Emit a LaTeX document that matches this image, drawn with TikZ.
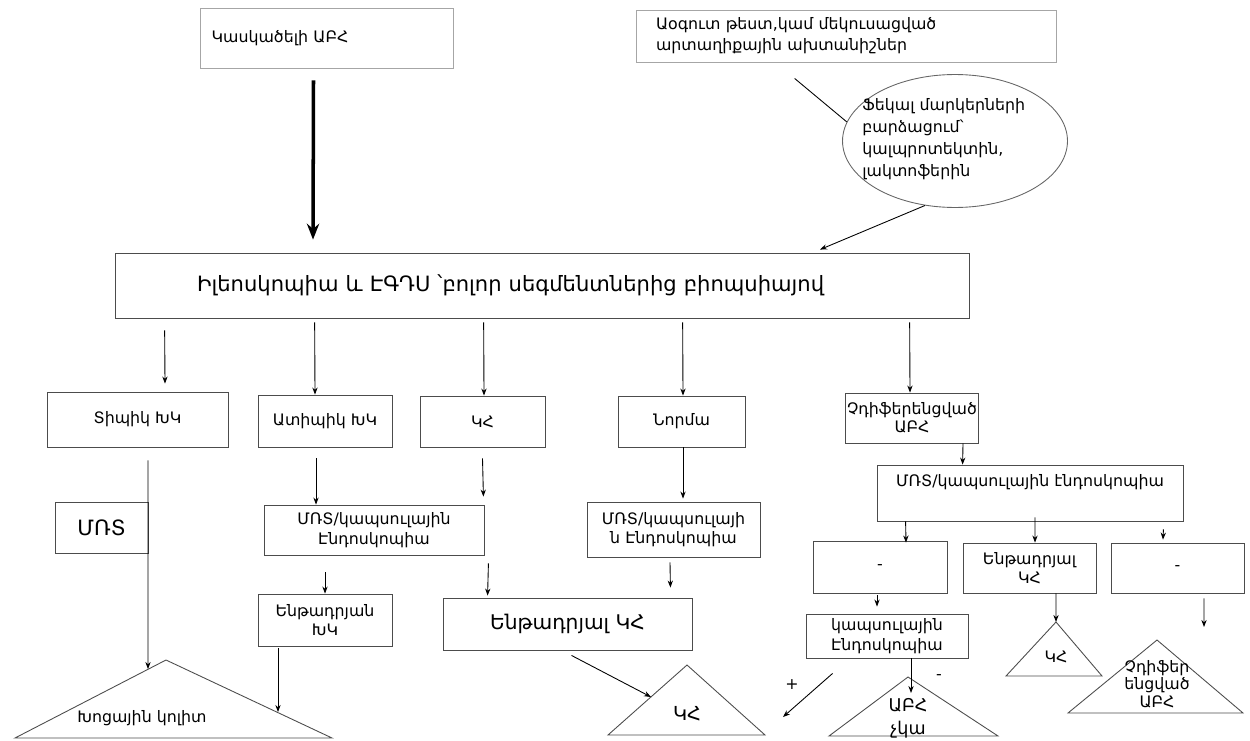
\documentclass[tikz,border=0pt]{standalone}
\usepackage{fontspec}
\setmainfont{DejaVu Sans}
\usetikzlibrary{arrows.meta,calc,shapes.geometric}

\begin{document}
\begin{tikzpicture}[x=0.02cm,y=-0.02cm,
  box/.style={draw=black!70,line width=0.5pt,rectangle,inner sep=1pt,font=\fontsize{9}{11}\selectfont,align=center},
  topbox/.style={box,draw=black!35,align=left},
  arr/.style={-{Stealth[length=4pt,width=3pt]},line width=0.5pt},
  tri/.style={draw=black!70,line width=0.5pt},
  lbl/.style={inner sep=0pt,font=\fontsize{9}{11}\selectfont,align=center}]
  \useasboundingbox (0,0) rectangle (1250,740);

  % top
  \node[topbox,minimum width=5.06cm,minimum height=1.2cm,text width=4.6cm,inner xsep=0.23cm] (susp) at (326.5,38) {Կասկածելի ԱԲՀ};
  \node[topbox,minimum width=8.4cm,minimum height=1.04cm,text width=7.6cm,inner xsep=0.4cm,font=\fontsize{9}{12}\selectfont] (test) at (846,36) {Աօգուտ թեստ,կամ մեկուսացված\\արտաղիքային ախտանիշներ};
  \node[draw=black!60,line width=0.5pt,ellipse,minimum width=4.5cm,minimum height=2.66cm] (ell) at (955,141) {};
  \node[lbl,align=left,anchor=west,font=\fontsize{9}{12.5}\selectfont] (elltxt) at (862,139) {Ֆեկալ մարկերների\\ բարձացում՝\\կալպրոտեկտին,\\լակտոֆերին};

  \node[box,minimum width=17.1cm,minimum height=1.3cm,text width=13.82cm,inner xsep=1.64cm,align=left,font=\fontsize{12}{14}\selectfont] (main) at (542.5,285.5) {Իլեոսկոպիա և ԷԳԴՍ ՝բոլոր սեգմենտներից բիոպսիայով};

  % second row
  \node[box,minimum width=3.62cm,minimum height=1.1cm] (typ) at (137.5,419.5) {Տիպիկ ԽԿ};
  \node[box,minimum width=2.68cm,minimum height=1.04cm] (atyp) at (325,421) {Ատիպիկ ԽԿ};
  \node[box,minimum width=2.5cm,minimum height=1.02cm] (cd) at (482.5,421.5) {ԿՀ};
  \node[box,minimum width=2.54cm,minimum height=1.02cm] (norm) at (681.5,421.5) {Նորմա};
  \node[box,minimum width=2.56cm,minimum height=1.0cm,font=\fontsize{9}{10}\selectfont] (undiff) at (912,418) {Չդիֆերենցված\\ԱԲՀ};

  % lower boxes
  \node[box,minimum width=1.86cm,minimum height=1.02cm,font=\fontsize{12}{14}\selectfont] (mrt) at (101.5,527.5) {ՄՌՏ};
  \node[box,minimum width=4.4cm,minimum height=1.0cm] (mri1) at (374,530) {ՄՌՏ/կապսուլային\\Էնդոսկոպիա};
  \node[box,minimum width=2.68cm,minimum height=1.04cm] (sucuc) at (325,620) {Ենթադրյան\\ԽԿ};
  \node[box,minimum width=3.46cm,minimum height=1.1cm] (mri2) at (673.5,529.5) {ՄՌՏ/կապսուլայի\\ն Էնդոսկոպիա};
  \node[box,minimum width=4.98cm,minimum height=1.04cm,font=\fontsize{11.5}{14}\selectfont] (sucd) at (567.5,624) {Ենթադրյալ ԿՀ};
  \node[box,minimum width=6.12cm,minimum height=1.12cm,text depth=0.5cm] (mri3) at (1030,493) {ՄՌՏ/կապսուլային էնդոսկոպիա};
  \node[box,minimum width=2.68cm,minimum height=1.04cm] (dash1) at (880,567) {-};
  \node[box,minimum width=2.66cm,minimum height=1.0cm] (sucd2) at (1029.5,568) {Ենթադրյալ\\ԿՀ};
  \node[box,minimum width=2.66cm,minimum height=1.0cm] (dash2) at (1177.5,568) {-};
  \node[box,minimum width=3.24cm,minimum height=0.88cm] (caps) at (887,636) {կապսուլային\\Էնդոսկոպիա};

  % triangles
  \draw[tri] (166,660) -- (332,738) -- (15,738) -- cycle;
  \draw[tri] (687,665) -- (765,735) -- (608,735) -- cycle;
  \draw[tri] (908,677) -- (998,736) -- (829,736) -- cycle;
  \draw[tri] (1056,622) -- (1102,676) -- (1006,676) -- cycle;
  \draw[tri] (1157,640) -- (1243,713) -- (1068,713) -- cycle;
  \node[lbl] (uclbl) at (142,718) {Խոցային կոլիտ};
  \node[lbl,font=\fontsize{11}{13}\selectfont] (cdlbl) at (687,714) {ԿՀ};
  \node[lbl,font=\fontsize{10}{13}\selectfont] (noibd) at (908,718) {ԱԲՀ\\չկա};
  \node[lbl] (cd2lbl) at (1056,657) {ԿՀ};
  \node[lbl,font=\fontsize{9}{10}\selectfont] (ibdu) at (1157,684) {Չդիֆեր\\ենցված\\ԱԲՀ};
  \node[lbl] (plus) at (792,685) {+};
  \node[lbl] (minus) at (939,677) {-};

  \coordinate (ucapex) at (148,669);
  \coordinate (ucright) at (278,712);
  \coordinate (cdleft) at (651,697);
  \coordinate (noibdin) at (911,693);
  \coordinate (cd2apex) at (1056,622);
  \coordinate (ibduhint) at (1204,627);
  \coordinate (plusend) at (783,717);

  % connectors
  \draw[line width=2pt,-{Stealth[length=9pt,width=7pt]}] ($(susp.south)+(-13,12)$) -- ($(main.north)+(-229.5,-13)$);
  \draw[line width=0.5pt] ($(test.south west)+(159,16)$) -- (ell.170);
  \draw[arr] (ell.245) -- ($(main.north)+(277.5,-3)$);
  \draw[arr] ($(main.south west)+(50,12)$) -- ($(typ.north)+(27.5,-8)$);
  \draw[arr] ($(main.south west)+(200,4)$) -- ($(atyp.north)+(-10,0)$);
  \draw[arr] ($(main.south west)+(369,4)$) -- ($(cd.north)+(1.5,0)$);
  \draw[arr] ($(main.south west)+(568,4)$) -- ($(norm.north)+(1.5,0)$);
  \draw[arr] ($(main.south west)+(795,4)$) -- ($(undiff.north)+(-2,0)$);
  \draw[arr] ($(typ.south)+(10.5,13)$) -- (ucapex);
  \draw[arr] ($(atyp.south)+(-9,11)$) -- ($(mri1.north)+(-58,0)$);
  \draw[arr] ($(mri1.south)+(-49,17)$) -- (sucuc.north);
  \draw[arr] ($(sucuc.south)+(-47,2)$) -- (ucright);
  \draw[arr] ($(cd.south)+(0,11)$) -- ($(mri1.north east)+(-1,-8)$);
  \draw[arr] ($(mri1.south east)+(4,8)$) -- ($(sucd.north west)+(45,-2)$);
  \draw[arr] ($(norm.south)+(1.5,0)$) -- ($(mri2.north)+(9.5,-3)$);
  \draw[arr] ($(mri2.south)+(-3.5,5)$) -- ($(sucd.north east)+(-22,-10)$);
  \draw[arr] ($(sucd.south)+(4,5)$) -- (cdleft);
  \draw[arr] ($(undiff.south)+(51,0)$) -- ($(mri3.north west)+(86,0)$);
  \draw[arr] ($(mri3.south west)+(29,0)$) -- ($(dash1.north)+(26,2)$);
  \draw[arr] ($(mri3.south)+(5,-4)$) -- ($(sucd2.north)+(5.5,0)$);
  \draw[arr] ($(mri3.south east)+(-20,8)$) -- ($(dash2.north)+(-14.5,-3)$);
  \draw[arr] ($(dash1.south)+(-3,2)$) -- ($(caps.north)+(-10,-7)$);
  \draw[arr] ($(caps.south)+(24,0)$) -- (noibdin);
  \draw[arr] ($(caps.south west)+(27,15)$) -- (plusend);
  \draw[arr] ($(sucd2.south)+(26.5,0)$) -- (cd2apex);
  \draw[arr] ($(dash2.south)+(26.5,5)$) -- (ibduhint);
\end{tikzpicture}
\end{document}
